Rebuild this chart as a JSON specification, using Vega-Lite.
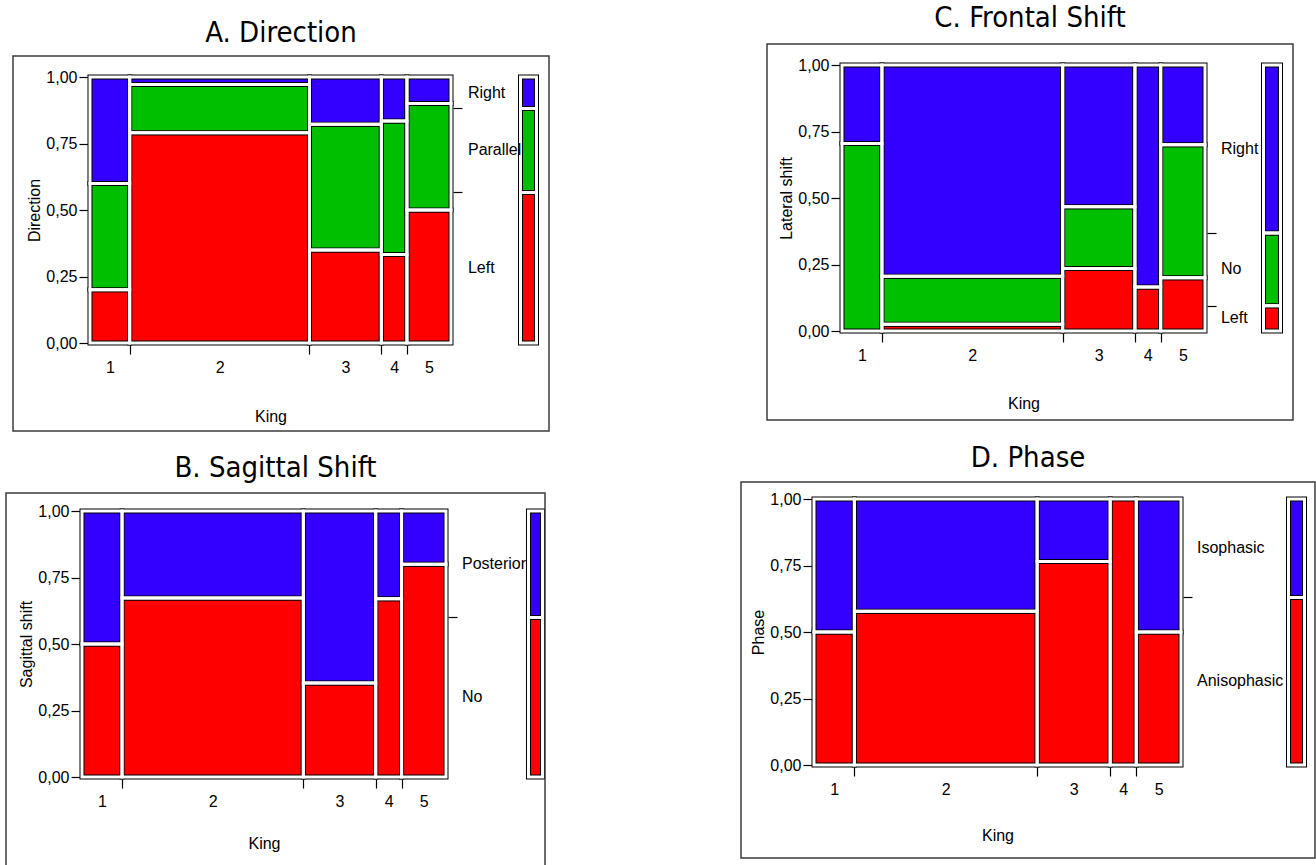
{
"$schema": "https://vega.github.io/schema/vega-lite/v6.json",
"padding": {"left": 5, "top": 4, "right": 0, "bottom": 0},
"background": "white",
"config": {
  "view": {"stroke": null},
  "axis": {"domain": false, "grid": false, "tickColor": "black", "tickWidth": 1.2, "labelFont": "Liberation Sans", "labelFontSize": 16, "labelColor": "black", "titleFont": "Liberation Sans", "titleFontSize": 16, "titleFontWeight": "normal", "titleColor": "black"},
  "title": {"font": "DejaVu Sans Condensed, Open Sans", "fontSize": 29, "fontWeight": "normal", "color": "black", "frame": "bounds", "anchor": "middle", "baseline": "alphabetic", "offset": 15}
},
"datasets": {
  "cA": [
    {"k": 1, "cat": "Left", "x0": 0, "x1": 0.11, "y0": 0, "y1": 0.2},
    {"k": 1, "cat": "Parallel", "x0": 0, "x1": 0.11, "y0": 0.2, "y1": 0.6},
    {"k": 1, "cat": "Right", "x0": 0, "x1": 0.11, "y0": 0.6, "y1": 1},
    {"k": 2, "cat": "Left", "x0": 0.11, "x1": 0.608, "y0": 0, "y1": 0.79},
    {"k": 2, "cat": "Parallel", "x0": 0.11, "x1": 0.608, "y0": 0.79, "y1": 0.972},
    {"k": 2, "cat": "Right", "x0": 0.11, "x1": 0.608, "y0": 0.972, "y1": 1},
    {"k": 3, "cat": "Left", "x0": 0.608, "x1": 0.807, "y0": 0, "y1": 0.35},
    {"k": 3, "cat": "Parallel", "x0": 0.608, "x1": 0.807, "y0": 0.35, "y1": 0.822},
    {"k": 3, "cat": "Right", "x0": 0.608, "x1": 0.807, "y0": 0.822, "y1": 1},
    {"k": 4, "cat": "Left", "x0": 0.807, "x1": 0.878, "y0": 0, "y1": 0.333},
    {"k": 4, "cat": "Parallel", "x0": 0.807, "x1": 0.878, "y0": 0.333, "y1": 0.835},
    {"k": 4, "cat": "Right", "x0": 0.807, "x1": 0.878, "y0": 0.835, "y1": 1},
    {"k": 5, "cat": "Left", "x0": 0.878, "x1": 1, "y0": 0, "y1": 0.5},
    {"k": 5, "cat": "Parallel", "x0": 0.878, "x1": 1, "y0": 0.5, "y1": 0.9},
    {"k": 5, "cat": "Right", "x0": 0.878, "x1": 1, "y0": 0.9, "y1": 1}
  ],
  "sA": [
    {"cat": "Left", "y0": 0, "y1": 0.566, "ymid": 0.283},
    {"cat": "Parallel", "y0": 0.566, "y1": 0.882, "ymid": 0.724},
    {"cat": "Right", "y0": 0.882, "y1": 1, "ymid": 0.941}
  ],
  "cB": [
    {"k": 1, "cat": "No", "x0": 0, "x1": 0.11, "y0": 0, "y1": 0.5},
    {"k": 1, "cat": "Posterior", "x0": 0, "x1": 0.11, "y0": 0.5, "y1": 1},
    {"k": 2, "cat": "No", "x0": 0.11, "x1": 0.608, "y0": 0, "y1": 0.673},
    {"k": 2, "cat": "Posterior", "x0": 0.11, "x1": 0.608, "y0": 0.673, "y1": 1},
    {"k": 3, "cat": "No", "x0": 0.608, "x1": 0.807, "y0": 0, "y1": 0.353},
    {"k": 3, "cat": "Posterior", "x0": 0.608, "x1": 0.807, "y0": 0.353, "y1": 1},
    {"k": 4, "cat": "No", "x0": 0.807, "x1": 0.878, "y0": 0, "y1": 0.67},
    {"k": 4, "cat": "Posterior", "x0": 0.807, "x1": 0.878, "y0": 0.67, "y1": 1},
    {"k": 5, "cat": "No", "x0": 0.878, "x1": 1, "y0": 0, "y1": 0.8},
    {"k": 5, "cat": "Posterior", "x0": 0.878, "x1": 1, "y0": 0.8, "y1": 1}
  ],
  "sB": [
    {"cat": "No", "y0": 0, "y1": 0.6, "ymid": 0.3},
    {"cat": "Posterior", "y0": 0.6, "y1": 1, "ymid": 0.8}
  ],
  "cC": [
    {"k": 1, "cat": "No", "x0": 0, "x1": 0.11, "y0": 0, "y1": 0.705},
    {"k": 1, "cat": "Right", "x0": 0, "x1": 0.11, "y0": 0.705, "y1": 1},
    {"k": 2, "cat": "Left", "x0": 0.11, "x1": 0.608, "y0": 0, "y1": 0.025},
    {"k": 2, "cat": "No", "x0": 0.11, "x1": 0.608, "y0": 0.025, "y1": 0.206},
    {"k": 2, "cat": "Right", "x0": 0.11, "x1": 0.608, "y0": 0.206, "y1": 1},
    {"k": 3, "cat": "Left", "x0": 0.608, "x1": 0.807, "y0": 0, "y1": 0.235},
    {"k": 3, "cat": "No", "x0": 0.608, "x1": 0.807, "y0": 0.235, "y1": 0.467},
    {"k": 3, "cat": "Right", "x0": 0.608, "x1": 0.807, "y0": 0.467, "y1": 1},
    {"k": 4, "cat": "Left", "x0": 0.807, "x1": 0.878, "y0": 0, "y1": 0.165},
    {"k": 4, "cat": "Right", "x0": 0.807, "x1": 0.878, "y0": 0.165, "y1": 1},
    {"k": 5, "cat": "Left", "x0": 0.878, "x1": 1, "y0": 0, "y1": 0.2},
    {"k": 5, "cat": "No", "x0": 0.878, "x1": 1, "y0": 0.2, "y1": 0.7},
    {"k": 5, "cat": "Right", "x0": 0.878, "x1": 1, "y0": 0.7, "y1": 1}
  ],
  "sC": [
    {"cat": "Left", "y0": 0, "y1": 0.095, "ymid": 0.0475},
    {"cat": "No", "y0": 0.095, "y1": 0.368, "ymid": 0.2315},
    {"cat": "Right", "y0": 0.368, "y1": 1, "ymid": 0.684}
  ],
  "cD": [
    {"k": 1, "cat": "Anisophasic", "x0": 0, "x1": 0.11, "y0": 0, "y1": 0.5},
    {"k": 1, "cat": "Isophasic", "x0": 0, "x1": 0.11, "y0": 0.5, "y1": 1},
    {"k": 2, "cat": "Anisophasic", "x0": 0.11, "x1": 0.608, "y0": 0, "y1": 0.578},
    {"k": 2, "cat": "Isophasic", "x0": 0.11, "x1": 0.608, "y0": 0.578, "y1": 1},
    {"k": 3, "cat": "Anisophasic", "x0": 0.608, "x1": 0.807, "y0": 0, "y1": 0.765},
    {"k": 3, "cat": "Isophasic", "x0": 0.608, "x1": 0.807, "y0": 0.765, "y1": 1},
    {"k": 4, "cat": "Anisophasic", "x0": 0.807, "x1": 0.878, "y0": 0, "y1": 1},
    {"k": 5, "cat": "Anisophasic", "x0": 0.878, "x1": 1, "y0": 0, "y1": 0.5},
    {"k": 5, "cat": "Isophasic", "x0": 0.878, "x1": 1, "y0": 0.5, "y1": 1}
  ],
  "sD": [
    {"cat": "Anisophasic", "y0": 0, "y1": 0.63, "ymid": 0.315},
    {"cat": "Isophasic", "y0": 0.63, "y1": 1, "ymid": 0.815}
  ]
},
"resolve": {"scale": {"color": "independent", "x": "independent", "y": "independent"}},
"spacing": 12,
"vconcat": [
 {
  "resolve": {"scale": {"color": "independent", "x": "independent", "y": "independent"}},
  "spacing": 216,
  "hconcat": [
   {
    "width": 369, "height": 278,
    "title": {"text": "A. Direction", "offset": 7},
    "resolve": {"axis": {"x": "independent", "y": "independent"}},
    "layer": [
     {"data": {"name": "cA"}, "mark": {"type": "rect", "stroke": "black", "strokeWidth": 5},
      "encoding": {
       "x": {"field": "x0", "type": "quantitative", "scale": {"domain": [0, 1], "range": [8, 369], "nice": false, "zero": false},
        "axis": {"orient": "bottom", "values": [0.055, 0.11, 0.359, 0.608, 0.7075, 0.807, 0.8425, 0.878, 0.939], "labelExpr": "datum.value == 0.055 ? '1' : datum.value == 0.359 ? '2' : datum.value == 0.7075 ? '3' : datum.value == 0.8425 ? '4' : datum.value == 0.939 ? '5' : ''", "tickOpacity": {"condition": {"test": "indexof([0.11, 0.608, 0.807, 0.878], datum.value) >= 0", "value": 1}, "value": 0}, "tickSize": 9, "labelPadding": 5, "offset": 2, "labelOverlap": false, "labelFlush": false, "labelBound": false, "title": "King", "titlePadding": 33}},
       "x2": {"field": "x1"},
       "y": {"field": "y0", "type": "quantitative", "scale": {"domain": [0, 1], "range": [278, 12], "nice": false, "zero": false},
        "axis": {"orient": "left", "values": [0, 0.25, 0.5, 0.75, 1], "labelExpr": "replace(format(datum.value, '.2f'), '.', ',')", "tickSize": 9, "labelPadding": 2, "offset": -6, "title": "Direction", "titlePadding": 3}},
       "y2": {"field": "y1"},
       "color": {"field": "cat", "type": "nominal", "scale": {"domain": ["Left", "Parallel", "Right"], "range": ["#ff0000", "#00bf00", "#3300ff"]}, "legend": null}
      }},
     {"data": {"name": "cA"}, "mark": {"type": "rect", "filled": false, "stroke": "white", "strokeWidth": 3},
      "encoding": {"x": {"field": "x0", "type": "quantitative", "axis": null}, "x2": {"field": "x1"}, "y": {"field": "y0", "type": "quantitative", "axis": null}, "y2": {"field": "y1"}}},
     {"data": {"name": "sA"}, "mark": {"type": "rect", "stroke": "black", "strokeWidth": 5},
      "encoding": {"x": {"datum": 1.1925, "type": "quantitative", "axis": null}, "x2": {"datum": 1.2368},
       "y": {"field": "y0", "type": "quantitative", "axis": {"orient": "right", "values": [0.566, 0.882], "labels": false, "tickSize": 9, "offset": 2, "title": null}},
       "y2": {"field": "y1"}, "color": {"field": "cat", "type": "nominal", "legend": null}}},
     {"data": {"name": "sA"}, "mark": {"type": "rect", "filled": false, "stroke": "white", "strokeWidth": 3},
      "encoding": {"x": {"datum": 1.1925, "type": "quantitative", "axis": null}, "x2": {"datum": 1.2368}, "y": {"field": "y0", "type": "quantitative", "axis": null}, "y2": {"field": "y1"}}},
     {"data": {"name": "sA"}, "mark": {"type": "text", "align": "left", "baseline": "middle", "font": "Liberation Sans", "fontSize": 16, "color": "black"},
      "encoding": {"x": {"datum": 1.047, "type": "quantitative", "axis": null}, "y": {"field": "ymid", "type": "quantitative", "axis": null}, "text": {"field": "cat"}}},
     {"data": {"values": [{}]}, "mark": {"type": "rect", "filled": false, "stroke": "#3c3c3c", "strokeWidth": 1.5},
      "encoding": {"x": {"datum": -0.2133, "type": "quantitative", "axis": null}, "x2": {"datum": 1.2715}, "y": {"datum": 1.079, "type": "quantitative", "axis": null}, "y2": {"datum": -0.3308}}}
    ]
   },
   {
    "width": 363, "height": 266,
    "title": {"text": "C. Frontal Shift", "offset": 10},
    "resolve": {"axis": {"x": "independent", "y": "independent"}},
    "layer": [
     {"data": {"name": "cC"}, "mark": {"type": "rect", "stroke": "black", "strokeWidth": 5},
      "encoding": {
       "x": {"field": "x0", "type": "quantitative", "scale": {"domain": [0, 1], "nice": false, "zero": false},
        "axis": {"orient": "bottom", "values": [0.055, 0.11, 0.359, 0.608, 0.7075, 0.807, 0.8425, 0.878, 0.939], "labelExpr": "datum.value == 0.055 ? '1' : datum.value == 0.359 ? '2' : datum.value == 0.7075 ? '3' : datum.value == 0.8425 ? '4' : datum.value == 0.939 ? '5' : ''", "tickOpacity": {"condition": {"test": "indexof([0.11, 0.608, 0.807, 0.878], datum.value) >= 0", "value": 1}, "value": 0}, "tickSize": 9, "labelPadding": 5, "offset": 2, "labelOverlap": false, "labelFlush": false, "labelBound": false, "title": "King", "titlePadding": 32}},
       "x2": {"field": "x1"},
       "y": {"field": "y0", "type": "quantitative", "scale": {"domain": [0, 1], "nice": false, "zero": false},
        "axis": {"orient": "left", "values": [0, 0.25, 0.5, 0.75, 1], "labelExpr": "replace(format(datum.value, '.2f'), '.', ',')", "tickSize": 9, "labelPadding": 2, "offset": 2, "title": "Lateral shift", "titlePadding": 3}},
       "y2": {"field": "y1"},
       "color": {"field": "cat", "type": "nominal", "scale": {"domain": ["Left", "No", "Right"], "range": ["#ff0000", "#00bf00", "#3300ff"]}, "legend": null}
      }},
     {"data": {"name": "cC"}, "mark": {"type": "rect", "filled": false, "stroke": "white", "strokeWidth": 3},
      "encoding": {"x": {"field": "x0", "type": "quantitative", "axis": null}, "x2": {"field": "x1"}, "y": {"field": "y0", "type": "quantitative", "axis": null}, "y2": {"field": "y1"}}},
     {"data": {"name": "sC"}, "mark": {"type": "rect", "stroke": "black", "strokeWidth": 5},
      "encoding": {"x": {"datum": 1.1612, "type": "quantitative", "axis": null}, "x2": {"datum": 1.208},
       "y": {"field": "y0", "type": "quantitative", "axis": {"orient": "right", "values": [0.095, 0.368], "labels": false, "tickSize": 9, "offset": 2, "title": null}},
       "y2": {"field": "y1"}, "color": {"field": "cat", "type": "nominal", "legend": null}}},
     {"data": {"name": "sC"}, "mark": {"type": "rect", "filled": false, "stroke": "white", "strokeWidth": 3},
      "encoding": {"x": {"datum": 1.1612, "type": "quantitative", "axis": null}, "x2": {"datum": 1.208}, "y": {"field": "y0", "type": "quantitative", "axis": null}, "y2": {"field": "y1"}}},
     {"data": {"name": "sC"}, "mark": {"type": "text", "align": "left", "baseline": "middle", "font": "Liberation Sans", "fontSize": 16, "color": "black"},
      "encoding": {"x": {"datum": 1.044, "type": "quantitative", "axis": null}, "y": {"field": "ymid", "type": "quantitative", "axis": null}, "text": {"field": "cat"}}},
     {"data": {"values": [{}]}, "mark": {"type": "rect", "filled": false, "stroke": "#3c3c3c", "strokeWidth": 1.5},
      "encoding": {"x": {"datum": -0.2066, "type": "quantitative", "axis": null}, "x2": {"datum": 1.2424}, "y": {"datum": 1.079, "type": "quantitative", "axis": null}, "y2": {"datum": -0.3346}}}
    ]
   }
  ]
 },
 {
  "resolve": {"scale": {"color": "independent", "x": "independent", "y": "independent"}},
  "spacing": 194,
  "hconcat": [
   {
    "width": 364, "height": 278,
    "title": {"text": "B. Sagittal Shift", "offset": 9},
    "resolve": {"axis": {"x": "independent", "y": "independent"}},
    "layer": [
     {"data": {"name": "cB"}, "mark": {"type": "rect", "stroke": "black", "strokeWidth": 5},
      "encoding": {
       "x": {"field": "x0", "type": "quantitative", "scale": {"domain": [0, 1], "nice": false, "zero": false},
        "axis": {"orient": "bottom", "values": [0.055, 0.11, 0.359, 0.608, 0.7075, 0.807, 0.8425, 0.878, 0.939], "labelExpr": "datum.value == 0.055 ? '1' : datum.value == 0.359 ? '2' : datum.value == 0.7075 ? '3' : datum.value == 0.8425 ? '4' : datum.value == 0.939 ? '5' : ''", "tickOpacity": {"condition": {"test": "indexof([0.11, 0.608, 0.807, 0.878], datum.value) >= 0", "value": 1}, "value": 0}, "tickSize": 9, "labelPadding": 5, "offset": 2, "labelOverlap": false, "labelFlush": false, "labelBound": false, "title": "King", "titlePadding": 26}},
       "x2": {"field": "x1"},
       "y": {"field": "y0", "type": "quantitative", "scale": {"domain": [0, 1], "range": [278, 12], "nice": false, "zero": false},
        "axis": {"orient": "left", "values": [0, 0.25, 0.5, 0.75, 1], "labelExpr": "replace(format(datum.value, '.2f'), '.', ',')", "tickSize": 9, "labelPadding": 2, "offset": 2, "title": "Sagittal shift", "titlePadding": 3}},
       "y2": {"field": "y1"},
       "color": {"field": "cat", "type": "nominal", "scale": {"domain": ["No", "Posterior"], "range": ["#ff0000", "#3300ff"]}, "legend": null}
      }},
     {"data": {"name": "cB"}, "mark": {"type": "rect", "filled": false, "stroke": "white", "strokeWidth": 3},
      "encoding": {"x": {"field": "x0", "type": "quantitative", "axis": null}, "x2": {"field": "x1"}, "y": {"field": "y0", "type": "quantitative", "axis": null}, "y2": {"field": "y1"}}},
     {"data": {"name": "sB"}, "mark": {"type": "rect", "stroke": "black", "strokeWidth": 5},
      "encoding": {"x": {"datum": 1.2266, "type": "quantitative", "axis": null}, "x2": {"datum": 1.2651},
       "y": {"field": "y0", "type": "quantitative", "axis": {"orient": "right", "values": [0.6], "labels": false, "tickSize": 9, "offset": 2, "title": null}},
       "y2": {"field": "y1"}, "color": {"field": "cat", "type": "nominal", "legend": null}}},
     {"data": {"name": "sB"}, "mark": {"type": "rect", "filled": false, "stroke": "white", "strokeWidth": 3},
      "encoding": {"x": {"datum": 1.2266, "type": "quantitative", "axis": null}, "x2": {"datum": 1.2651}, "y": {"field": "y0", "type": "quantitative", "axis": null}, "y2": {"field": "y1"}}},
     {"data": {"name": "sB"}, "mark": {"type": "text", "align": "left", "baseline": "middle", "font": "Liberation Sans", "fontSize": 16, "color": "black"},
      "encoding": {"x": {"datum": 1.044, "type": "quantitative", "axis": null}, "y": {"field": "ymid", "type": "quantitative", "axis": null}, "text": {"field": "cat"}}},
     {"data": {"values": [{}]}, "mark": {"type": "rect", "filled": false, "stroke": "#3c3c3c", "strokeWidth": 1.5},
      "encoding": {"x": {"datum": -0.2088, "type": "quantitative", "axis": null}, "x2": {"datum": 1.272}, "y": {"datum": 1.068, "type": "quantitative", "axis": null}, "y2": {"datum": -0.345}}}
    ]
   },
   {
    "width": 367, "height": 266,
    "title": {"text": "D. Phase", "offset": 8},
    "resolve": {"axis": {"x": "independent", "y": "independent"}},
    "layer": [
     {"data": {"name": "cD"}, "mark": {"type": "rect", "stroke": "black", "strokeWidth": 5},
      "encoding": {
       "x": {"field": "x0", "type": "quantitative", "scale": {"domain": [0, 1], "nice": false, "zero": false},
        "axis": {"orient": "bottom", "values": [0.055, 0.11, 0.359, 0.608, 0.7075, 0.807, 0.8425, 0.878, 0.939], "labelExpr": "datum.value == 0.055 ? '1' : datum.value == 0.359 ? '2' : datum.value == 0.7075 ? '3' : datum.value == 0.8425 ? '4' : datum.value == 0.939 ? '5' : ''", "tickOpacity": {"condition": {"test": "indexof([0.11, 0.608, 0.807, 0.878], datum.value) >= 0", "value": 1}, "value": 0}, "tickSize": 9, "labelPadding": 5, "offset": 2, "labelOverlap": false, "labelFlush": false, "labelBound": false, "title": "King", "titlePadding": 30}},
       "x2": {"field": "x1"},
       "y": {"field": "y0", "type": "quantitative", "scale": {"domain": [0, 1], "nice": false, "zero": false},
        "axis": {"orient": "left", "values": [0, 0.25, 0.5, 0.75, 1], "labelExpr": "replace(format(datum.value, '.2f'), '.', ',')", "tickSize": 9, "labelPadding": 2, "offset": 2, "title": "Phase", "titlePadding": 3}},
       "y2": {"field": "y1"},
       "color": {"field": "cat", "type": "nominal", "scale": {"domain": ["Anisophasic", "Isophasic"], "range": ["#ff0000", "#3300ff"]}, "legend": null}
      }},
     {"data": {"name": "cD"}, "mark": {"type": "rect", "filled": false, "stroke": "white", "strokeWidth": 3},
      "encoding": {"x": {"field": "x0", "type": "quantitative", "axis": null}, "x2": {"field": "x1"}, "y": {"field": "y0", "type": "quantitative", "axis": null}, "y2": {"field": "y1"}}},
     {"data": {"name": "sD"}, "mark": {"type": "rect", "stroke": "black", "strokeWidth": 5},
      "encoding": {"x": {"datum": 1.2929, "type": "quantitative", "axis": null}, "x2": {"datum": 1.3365},
       "y": {"field": "y0", "type": "quantitative", "axis": {"orient": "right", "values": [0.63], "labels": false, "tickSize": 9, "offset": 2, "title": null}},
       "y2": {"field": "y1"}, "color": {"field": "cat", "type": "nominal", "legend": null}}},
     {"data": {"name": "sD"}, "mark": {"type": "rect", "filled": false, "stroke": "white", "strokeWidth": 3},
      "encoding": {"x": {"datum": 1.2929, "type": "quantitative", "axis": null}, "x2": {"datum": 1.3365}, "y": {"field": "y0", "type": "quantitative", "axis": null}, "y2": {"field": "y1"}}},
     {"data": {"name": "sD"}, "mark": {"type": "text", "align": "left", "baseline": "middle", "font": "Liberation Sans", "fontSize": 16, "color": "black"},
      "encoding": {"x": {"datum": 1.0436, "type": "quantitative", "axis": null}, "y": {"field": "ymid", "type": "quantitative", "axis": null}, "text": {"field": "cat"}}},
     {"data": {"values": [{}]}, "mark": {"type": "rect", "filled": false, "stroke": "#3c3c3c", "strokeWidth": 1.5},
      "encoding": {"x": {"datum": -0.1989, "type": "quantitative", "axis": null}, "x2": {"datum": 1.3651}, "y": {"datum": 1.064, "type": "quantitative", "axis": null}, "y2": {"datum": -0.35}}}
    ]
   }
  ]
 }
]
}
